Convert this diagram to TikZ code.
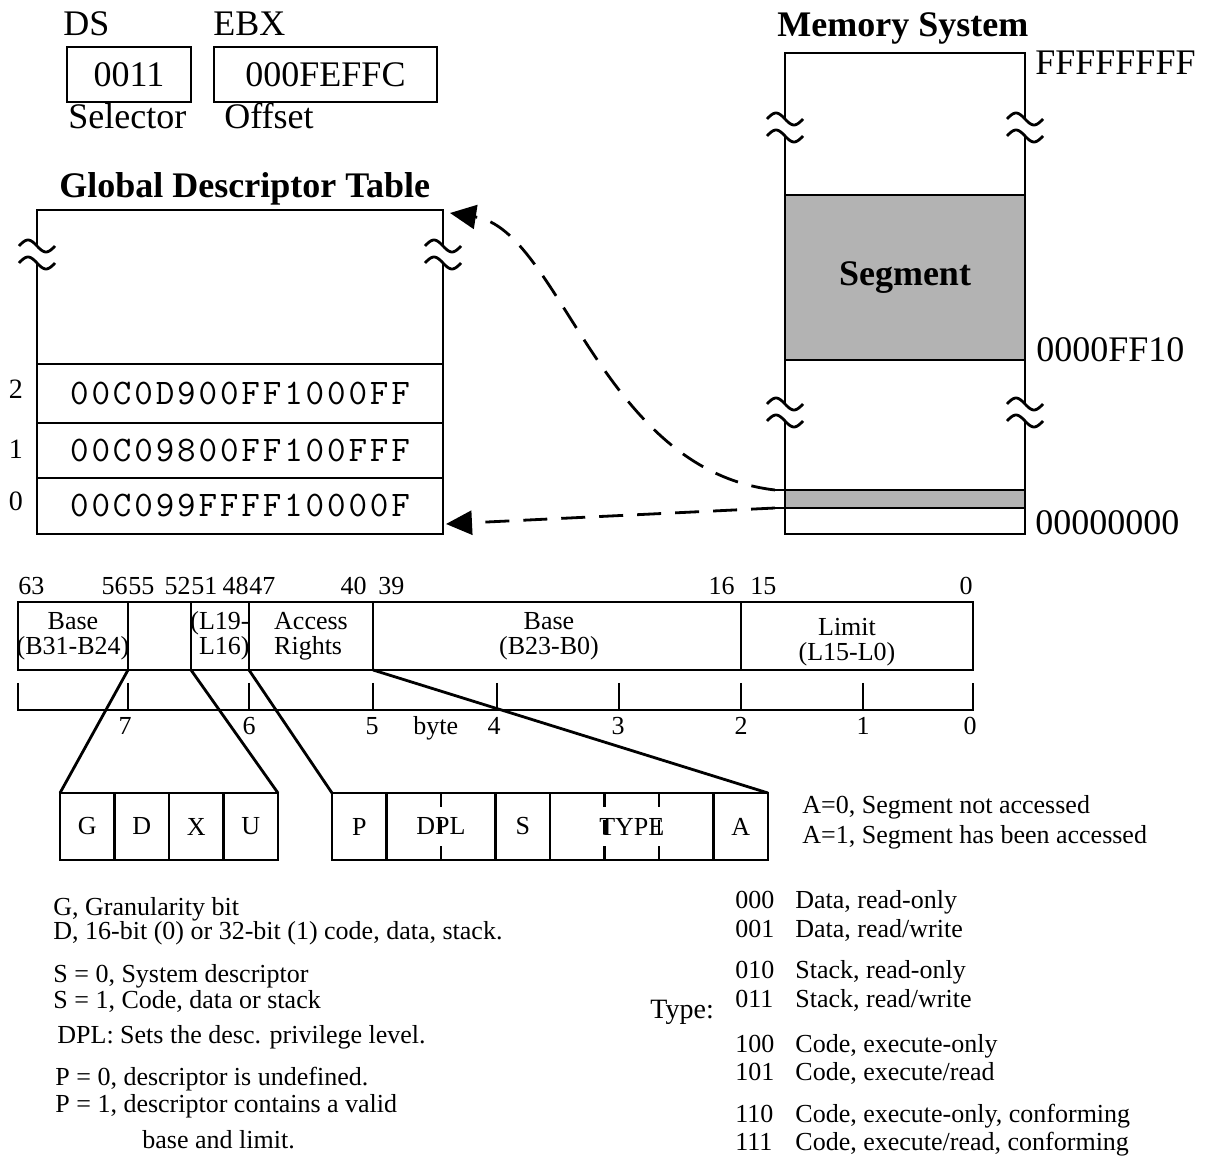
\documentclass[tikz,border=0pt]{standalone}
\usepackage{fontspec}
\setmainfont{Liberation Serif}
\newfontfamily\hexfont[LetterSpace=8]{Latin Modern Mono}
\usetikzlibrary{arrows.meta,positioning,calc}
\definecolor{seggray}{HTML}{B3B3B3}
\tikzset{ln/.style={line width=1.4pt},
         txt/.style={font=\fontsize{13}{12.5}\selectfont, inner sep=0pt},
         big/.style={font=\fontsize{18}{20}\selectfont, inner sep=0pt},
         bigb/.style={font=\fontsize{18}{20}\selectfont\bfseries, inner sep=0pt},
         regbox/.style={draw, ln, big, minimum height=27.5pt, outer sep=0pt},
         gdtrow/.style={draw, ln, font=\fontsize{18}{20}\selectfont\hexfont, minimum width=203pt, inner sep=0pt, outer sep=0pt},
         fld/.style={draw, ln, minimum height=34pt, inner sep=0pt, outer sep=0pt},
         cell/.style={draw, ln, txt, minimum width=27.25pt, minimum height=33.5pt, outer sep=0pt},
         sep/.style={ln, dash pattern=on 7pt off 6.25pt},
         dasharr/.style={ln, dash pattern=on 12pt off 7pt, -{Triangle[length=13pt,width=12pt]}},
         brk/.pic={\fill[white] (-4,0) rectangle (4,17);
                   \draw[ln] plot[domain=-18:18, smooth, samples=19] (\x,{6*sin(10*\x)});
                   \draw[ln] plot[domain=-18:18, smooth, samples=19] (\x,{17+6*sin(10*\x)});}}
\begin{document}
\begin{tikzpicture}[x=0.5pt, y=-0.5pt]
\useasboundingbox (0,0) rectangle (1210,1159);
% selector and offset
\node[big, anchor=base west] (ds) at (63,36) {DS};
\node[big, anchor=base west] (ebx) at (213,36) {EBX};
\node[regbox, minimum width=62pt] (sel) at (129,74.5) {0011};
\node[regbox, minimum width=111.5pt] (off) at (325.5,74.5) {000FEFFC};
\node[big, anchor=base west] (selt) at (68,129) {Selector};
\node[big, anchor=base west] (offt) at (224,129) {Offset};
% descriptor table
\node[bigb, anchor=base west] (gdtt) at (59,198) {Global Descriptor Table};
\node[draw, ln, minimum width=203pt, minimum height=77pt, outer sep=0pt] (gdt) at (240,287) {};
\node[gdtrow, minimum height=29.5pt] (r2) at (240,393.5) {00C0D900FF1000FF};
\node[gdtrow, minimum height=27.5pt] (r1) at (240,450.5) {00C09800FF100FFF};
\node[gdtrow, minimum height=28pt] (r0) at (240,506) {00C099FFFF10000F};
\node[txt, font=\fontsize{14}{14}\selectfont] (n2) at (16,389) {2};
\node[txt, font=\fontsize{14}{14}\selectfont] (n1) at (16,449) {1};
\node[txt, font=\fontsize{14}{14}\selectfont] (n0) at (16,501) {0};
\pic at (37,246) {brk};
\pic at (443,246) {brk};
% memory
\node[bigb, anchor=base west] (memt) at (777,37) {Memory System};
\node[draw, ln, minimum width=120pt, minimum height=240.5pt, outer sep=0pt] (mem) at (905,293.5) {};
\node[draw, ln, fill=seggray, bigb, minimum width=120pt, minimum height=82.5pt, outer sep=0pt] (seg) at (905,277.5) {Segment};
\node[draw, ln, fill=seggray, minimum width=120pt, minimum height=9pt, inner sep=0pt, outer sep=0pt] (band) at (905,499) {};
\draw[ln] (band.north west) -- ++(-10,0) coordinate (bandtl);
\draw[ln] (band.south west) -- ++(-10,0) coordinate (bandbl);
\node[big, anchor=base west] (atop) at (1035,75) {FFFFFFFF};
\node[big, anchor=base west] (aseg) at (1036,362) {0000FF10};
\node[big, anchor=base west] (azero) at (1035,535) {00000000};
\pic at (785,119) {brk};
\pic at (1025,119) {brk};
\pic at (785,404) {brk};
\pic at (1025,404) {brk};
\coordinate (gdtin) at (450,213);
\coordinate (gdtlow) at (446,524);
\draw[dasharr] (bandtl) .. controls (600,470) and (560,230) .. (gdtin);
\draw[dasharr] (bandbl) -- (gdtlow);
% descriptor layout
\node[fld, minimum width=55pt] (fhi) at (73,636) {};
\node[fld, minimum width=31.5pt, right=0pt of fhi] (fgx) {};
\node[fld, minimum width=29pt, right=0pt of fgx] (flh) {};
\node[fld, minimum width=62pt, right=0pt of flh] (far) {};
\node[fld, minimum width=184pt, right=0pt of far] (fmid) {};
\node[fld, minimum width=116pt, right=0pt of fmid] (flo) {};
\node[txt, align=center] (thi) at (fhi) {Base\\(B31-B24)};
\node[txt, align=right] (tlh) at (flh) {(L19-\\L16)};
\node[txt, align=left] (tar) at (far) {Access\\Rights};
\node[txt, align=center] (tmid) at ([xshift=-4pt]fmid.center) {Base\\(B23-B0)};
\node[txt, align=center] (tlo) at ([xshift=-5pt,yshift=-3pt]flo.center) {Limit\\(L15-L0)};
\foreach \x/\n/\a in {18/63/west, 128/56/east, 128/55/west, 191/52/east, 191/51/west, 249/48/east, 249/47/west,
                      367/40/east, 378/39/west, 735/16/east, 750/15/west, 973/0/east}
  \node[txt, anchor=base \a] (bit\n) at (\x,595) {\n};
\draw[ln] (18,683) |- (973,710) -- (973,683);
\foreach \x in {128,249,373,497,619,741,863}
  \draw[ln] (\x,683) -- (\x,710);
\foreach \x/\n in {125/7, 249/6, 372/5, 494/4, 618/3, 741/2, 863/1, 970/0}
  \node[txt, anchor=base] (byte\n) at (\x,735) {\n};
\node[txt, anchor=base west] (bytet) at (413,735) {byte};
% expanded fields
\node[cell] (cg) at (87.25,826.5) {G};
\node[cell, right=0pt of cg] (cd) {D};
\node[cell, right=0pt of cd] (cx) {X};
\node[cell, right=0pt of cx] (cu) {U};
\node[cell] (cp) at (359.25,826.5) {P};
\node[cell, minimum width=54.5pt, right=0pt of cp] (cdpl) {DPL};
\node[cell, right=0pt of cdpl] (cs) {S};
\node[cell, minimum width=81.75pt, right=0pt of cs] (ctype) {TYPE};
\node[cell, right=0pt of ctype] (ca) {A};
\draw[sep] (cdpl.north) -- (cdpl.south);
\draw[sep] ($(ctype.north west)!1/3!(ctype.north east)$) -- ($(ctype.south west)!1/3!(ctype.south east)$);
\draw[sep] ($(ctype.north west)!2/3!(ctype.north east)$) -- ($(ctype.south west)!2/3!(ctype.south east)$);
\draw[ln] (fhi.south east) -- (cg.north west);
\draw[ln] (fgx.south east) -- (cu.north east);
\draw[ln] (flh.south east) -- (cp.north west);
\draw[ln] (far.south east) -- (ca.north east);
% legends
\node[txt, anchor=base west] (la0) at (802,813) {A=0, Segment not accessed};
\node[txt, anchor=base west] (la1) at (802,843) {A=1, Segment has been accessed};
\node[txt, anchor=base west] (lg) at (53,915) {G, Granularity bit};
\node[txt, anchor=base west] (ld) at (53,939) {D, 16-bit (0) or 32-bit (1) code, data, stack.};
\node[txt, anchor=base west] (ls0) at (53,982) {S = 0, System descriptor};
\node[txt, anchor=base west] (ls1) at (53,1008) {S = 1, Code, data or stack};
\node[txt, anchor=base west] (ldpl) at (57,1043) {DPL: Sets the desc. privilege level.};
\node[txt, anchor=base west] (lp0) at (55,1085) {P = 0, descriptor is undefined.};
\node[txt, anchor=base west] (lp1) at (55,1112) {P = 1, descriptor contains a valid};
\node[txt, anchor=base west] (lp1b) at (142,1148) {base and limit.};
\node[txt, anchor=base west, font=\fontsize{14}{14}\selectfont] (ltype) at (650,1018) {Type:};
\foreach \c/\t/\y in {000/{Data, read-only}/908, 001/{Data, read/write}/937, 010/{Stack, read-only}/978,
                      011/{Stack, read/write}/1007, 100/{Code, execute-only}/1052, 101/{Code, execute/read}/1080,
                      110/{Code, execute-only, conforming}/1122, 111/{Code, execute/read, conforming}/1150}{
  \node[txt, anchor=base west] (tc\c) at (735,\y) {\c};
  \node[txt, anchor=base west] (td\c) at (795,\y) {\t};
}
\end{tikzpicture}
\end{document}
